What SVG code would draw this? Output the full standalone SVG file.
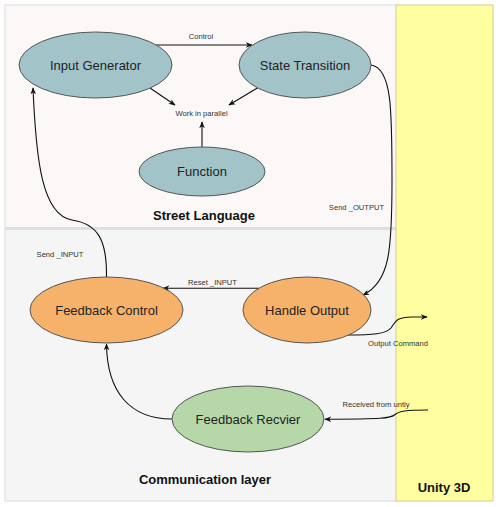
<svg xmlns="http://www.w3.org/2000/svg" width="500" height="507" viewBox="0 0 500 507">
<style>
.node{stroke:#555;stroke-width:1}
.teal{fill:#a2c4c9}
.orange{fill:#f6b26b}
.green{fill:#b6d7a8}
.lbl{font-family:"Liberation Sans",Arial,sans-serif;font-size:13px;fill:#222;text-anchor:middle}
.small{font-family:"Liberation Sans",Arial,sans-serif;font-size:7.6px;fill:#333;text-anchor:middle}
.title{font-family:"Liberation Sans",Arial,sans-serif;font-size:13px;font-weight:bold;fill:#111;text-anchor:middle}
.conn{fill:none;stroke:#111;stroke-width:1.1}
</style>
<defs>
<marker id="arr" viewBox="0 0 10 10" refX="9" refY="5" markerWidth="7" markerHeight="7" orient="auto" markerUnits="userSpaceOnUse">
<path d="M0,1 L10,5 L0,9 L3,5 Z" fill="#111"/>
</marker>
</defs>
<rect width="500" height="507" fill="#ffffff"/>
<g id="panels">
<rect x="5" y="5" width="393" height="223" fill="#fcf8f7" stroke="#e6e6e6" stroke-width="1.5"/>
<rect x="5" y="229" width="393" height="272" fill="#f5f5f5" stroke="#e6e6e6" stroke-width="1.5"/>
<line x1="5" y1="228.5" x2="398" y2="228.5" stroke="#dedede" stroke-width="2.5"/>
<rect x="396" y="5" width="97" height="496" fill="#ffff9f" stroke="#d6d69c" stroke-width="1.2"/>
<text class="title" x="204" y="220">Street Language</text>
<text class="title" x="205" y="484">Communication layer</text>
<text class="title" x="444" y="492">Unity 3D</text>
</g>
<g id="connectors">
<path class="conn" d="M156,45 L252,45" marker-end="url(#arr)"/>
<text class="small" x="201" y="38.5" font-size="8.5">Control</text>
<path class="conn" d="M150,88 L175,105" marker-end="url(#arr)"/>
<path class="conn" d="M259,87 L229,105" marker-end="url(#arr)"/>
<path class="conn" d="M202,147 L202,122" marker-end="url(#arr)"/>
<text class="small" x="201.5" y="115.5">Work in parallel</text>
<path class="conn" d="M371,65 C392,68 392,110 392,180 C392,250 390,282 363,295" marker-end="url(#arr)"/>
<text class="small" x="356.5" y="210">Send _OUTPUT</text>
<path class="conn" d="M259,288.3 L163,288.3" marker-end="url(#arr)"/>
<text class="small" x="212.5" y="284.5">Reset _INPUT</text>
<path class="conn" d="M106.5,277 C107,240 98,224 72,220 C42,215 36,160 33,88" marker-end="url(#arr)"/>
<text class="small" x="60" y="256.5">Send _INPUT</text>
<path class="conn" d="M348,335 C372,335 386,334 391,328 C395,322 396,317 412,317 L427,317" marker-end="url(#arr)"/>
<text class="small" x="398" y="345.5">Output Command</text>
<path class="conn" d="M428,410 C406,410 399,411 395,414.5 C391,418.5 382,419 325,419.3" marker-end="url(#arr)"/>
<text class="small" x="376" y="407">Received from untiy</text>
<path class="conn" d="M172,419 C130,419 107,392 106.5,344" marker-end="url(#arr)"/>
</g>
<g id="input-generator">
<ellipse class="node teal" cx="95.5" cy="65" rx="76.5" ry="33"/>
<text class="lbl" x="95.5" y="69.5">Input Generator</text>
</g>
<g id="state-transition">
<ellipse class="node teal" cx="305" cy="65" rx="66" ry="33"/>
<text class="lbl" x="305" y="69.5">State Transition</text>
</g>
<g id="function">
<ellipse class="node teal" cx="202" cy="171.5" rx="63" ry="24.5"/>
<text class="lbl" x="202" y="176">Function</text>
</g>
<g id="feedback-control">
<ellipse class="node orange" cx="106.5" cy="310" rx="76.5" ry="33"/>
<text class="lbl" x="106.5" y="315">Feedback Control</text>
</g>
<g id="handle-output">
<ellipse class="node orange" cx="307" cy="310" rx="64" ry="33"/>
<text class="lbl" x="307" y="315">Handle Output</text>
</g>
<g id="feedback-recvier">
<ellipse class="node green" cx="248" cy="419" rx="76" ry="33"/>
<text class="lbl" x="248" y="424">Feedback Recvier</text>
</g>
</svg>
